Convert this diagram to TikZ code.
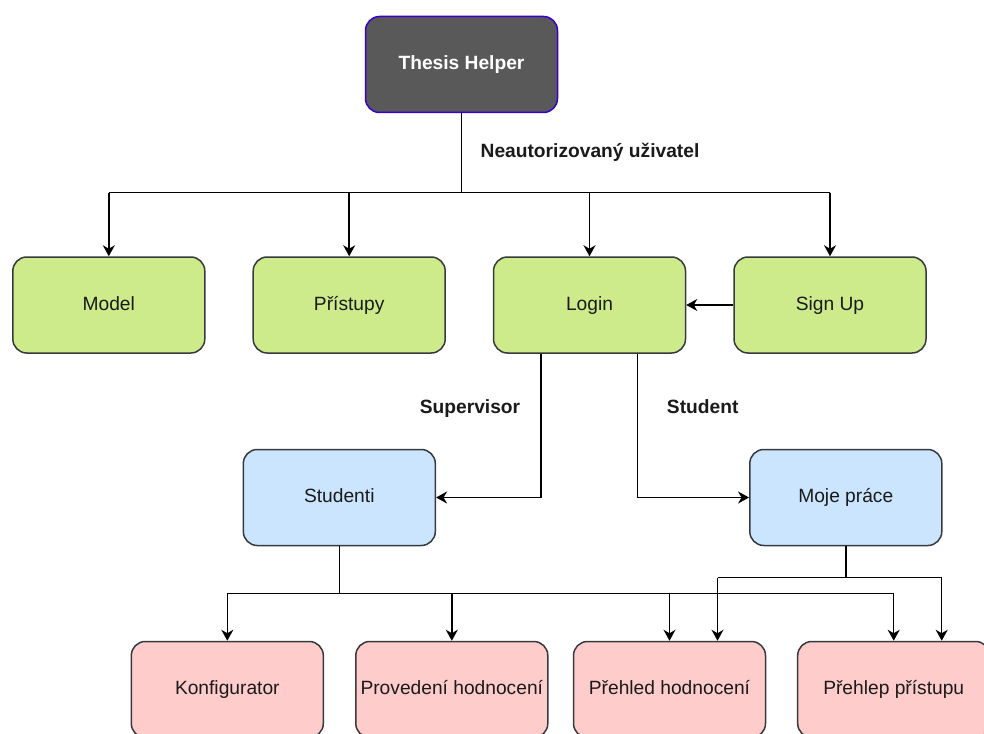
\documentclass[tikz,border=0pt]{standalone}
\usepackage{fontspec}
\setmainfont{Liberation Sans}
\usetikzlibrary{arrows.meta}
\definecolor{gfill}{HTML}{CDEB8B}
\definecolor{bfill}{HTML}{CCE5FF}
\definecolor{rfill}{HTML}{FFCCCC}
\definecolor{bord}{HTML}{36393D}
\definecolor{thfill}{HTML}{595959}
\definecolor{thbord}{HTML}{3700CC}
\definecolor{txt}{HTML}{1A1A1A}
\begin{document}
\begin{tikzpicture}[x=1pt,y=-1pt,
  box/.style={draw=bord, line width=1.5pt, rounded corners=14pt, minimum width=192pt, minimum height=96pt, inner sep=0pt, text height=14pt, text depth=4pt, text=txt, font=\fontsize{19.2}{23}\selectfont},
  greenbox/.style={box, fill=gfill},
  bluebox/.style={box, fill=bfill},
  redbox/.style={box, fill=rfill},
  conn/.style={draw=black, line width=1.5pt},
  arr/.style={conn, -{Stealth[length=11pt,width=12pt,inset=3.5pt]}},
  lbl/.style={text=txt, font=\bfseries\fontsize{19.2}{23}\selectfont, inner sep=0pt, text height=14pt, text depth=4pt}
]
\useasboundingbox (0,0) rectangle (984,733);
\fill[white] (0,0) rectangle (984,733);

\node[box, fill=thfill, draw=thbord, text=white, font=\bfseries\fontsize{19.2}{23}\selectfont] (th) at (461.5,64.5) {Thesis Helper};

\node[greenbox] (model) at (108.8,305) {Model};
\node[greenbox] (prist) at (349.2,305) {Přístupy};
\node[greenbox] (login) at (589.5,305) {Login};
\node[greenbox] (signup) at (830,305) {Sign Up};

\node[bluebox] (studenti) at (339.3,497.5) {Studenti};
\node[bluebox] (moje) at (845.8,497.5) {Moje práce};

\node[redbox] (konf) at (227.3,689.5) {Konfigurator};
\node[redbox] (prov) at (451.8,689.5) {Provedení hodnocení};
\node[redbox] (prehled) at (669.5,689.5) {Přehled hodnocení};
\node[redbox] (prehlep) at (893.7,689.5) {Přehlep přístupu};

\node[lbl] (lneaut) at (590,152) {Neautorizovaný uživatel};
\node[lbl] (lsup) at (470,408) {Supervisor};
\node[lbl] (lstud) at (702.7,408) {Student};

% top bus
\coordinate (tb) at (461.5,192.5);
\draw[conn] (th.south) -- (tb);
\draw[conn] (model.north |- tb) -- (signup.north |- tb);
\draw[arr] (model.north |- tb) -- (model.north);
\draw[arr] (prist.north |- tb) -- (prist.north);
\draw[arr] (login.north |- tb) -- (login.north);
\draw[arr] (signup.north |- tb) -- (signup.north);

% sign up -> login
\draw[arr] (signup.west) -- (login.east);

% login -> studenti / moje prace
\draw[arr] ([xshift=-48.5pt]login.south) |- (studenti.east);
\draw[arr] ([xshift=48.2pt]login.south) |- (moje.west);

% studenti bus
\coordinate (sb) at (339.3,593.3);
\draw[conn] (studenti.south) -- (sb);
\draw[conn] (konf.north |- sb) -- (prehlep.north |- sb);
\draw[arr] (konf.north |- sb) -- (konf.north);
\draw[arr] (prov.north |- sb) -- (prov.north);
\draw[arr] (prehled.north |- sb) -- (prehled.north);
\draw[arr] (prehlep.north |- sb) -- (prehlep.north);

% moje prace bus
\coordinate (mb) at (845.8,577.7);
\draw[conn] (moje.south) -- (mb);
\draw[conn] ([xshift=48pt]prehled.north |- mb) -- ([xshift=48pt]prehlep.north |- mb);
\draw[arr] ([xshift=48pt]prehled.north |- mb) -- ([xshift=48pt]prehled.north);
\draw[arr] ([xshift=48pt]prehlep.north |- mb) -- ([xshift=48pt]prehlep.north);
\end{tikzpicture}
\end{document}
